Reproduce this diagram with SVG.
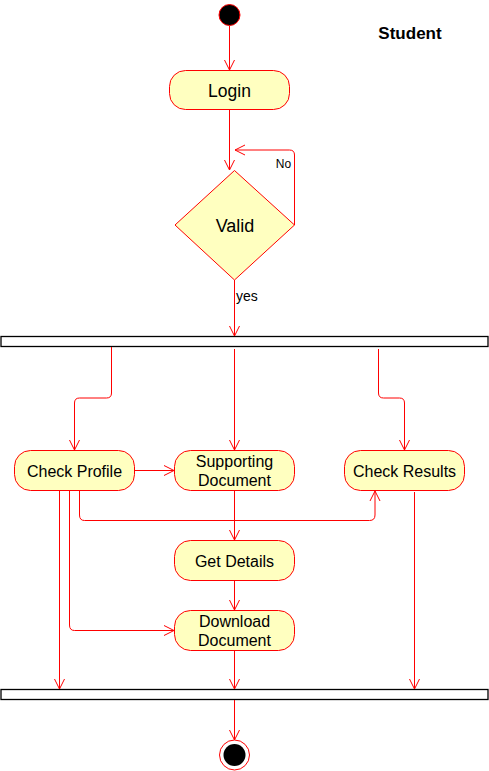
<svg xmlns="http://www.w3.org/2000/svg" width="489" height="771" viewBox="0 0 489 771">
<style>
.node{fill:#FFFFC0;stroke:#FF0000;stroke-width:1}
.bar{fill:#FFFFFF;stroke:#000000;stroke-width:1.3}
.edge{fill:none;stroke:#FF0000;stroke-width:1;marker-end:url(#arr)}
text{font-family:"Liberation Sans",Arial,sans-serif;fill:#000000;text-anchor:middle}
.lbl{font-size:16px}
.small{font-size:13px;text-anchor:start}
</style>
<defs>
<marker id="arr" markerUnits="userSpaceOnUse" markerWidth="14" markerHeight="14" viewBox="-12 -7 14 14" refX="0" refY="0" orient="auto">
<path d="M-10,-5 L0,0 L-10,5" fill="none" stroke="#FF0000" stroke-width="1"/>
</marker>
</defs>
<rect width="489" height="771" fill="#FFFFFF"/>
<text x="410" y="39" style="font-size:17px;font-weight:bold">Student</text>
<g id="start"><circle cx="229.5" cy="15" r="10.5" fill="#000000" stroke="#FF0000" stroke-width="1"/></g>
<g id="login"><rect class="node" x="169.5" y="70.5" width="120" height="39" rx="16"/><text x="229.5" y="97" style="font-size:17.5px">Login</text></g>
<g id="valid"><polygon class="node" points="234.5,170.5 294.5,225 234.5,280 175,225"/><text x="235" y="232" style="font-size:18px">Valid</text></g>
<g id="fork"><rect class="bar" x="1" y="336.5" width="487" height="10"/></g>
<g id="checkProfile"><rect class="node" x="14.5" y="450.5" width="120" height="40" rx="16"/><text class="lbl" x="74.5" y="477">Check Profile</text></g>
<g id="supportingDocument"><rect class="node" x="174.5" y="450.5" width="120" height="40" rx="16"/><text class="lbl" x="234.5" y="467">Supporting</text><text class="lbl" x="234.5" y="486">Document</text></g>
<g id="checkResults"><rect class="node" x="344.5" y="450.5" width="120" height="40" rx="16"/><text class="lbl" x="404.5" y="477">Check Results</text></g>
<g id="getDetails"><rect class="node" x="174.5" y="540.5" width="120" height="40" rx="16"/><text class="lbl" x="234.5" y="567">Get Details</text></g>
<g id="downloadDocument"><rect class="node" x="174.5" y="610.5" width="120" height="40" rx="16"/><text class="lbl" x="234.5" y="627">Download</text><text class="lbl" x="234.5" y="645.5">Document</text></g>
<g id="join"><rect class="bar" x="1" y="689.5" width="487" height="10"/></g>
<g id="end"><circle cx="234.5" cy="755" r="15" fill="#FFFFFF" stroke="#FF0000" stroke-width="1"/><circle cx="234.5" cy="755" r="11" fill="#000000"/></g>
<g id="connectors">
<path class="edge" d="M229.5,26 V70"/>
<path class="edge" d="M229.5,110 V170"/>
<path class="edge" d="M294.5,225 V155 Q294.5,150 289.5,150 H235"/>
<path class="edge" d="M234.5,280 V336"/>
<path class="edge" d="M111.5,347 V393 Q111.5,398 106.5,398 H79.5 Q74.5,398 74.5,403 V450"/>
<path class="edge" d="M234.5,349 V450"/>
<path class="edge" d="M378.5,349 V393 Q378.5,398 383.5,398 H399.5 Q404.5,398 404.5,403 V450"/>
<path class="edge" d="M134.5,470.5 H174"/>
<path class="edge" d="M59.5,491 V689"/>
<path class="edge" d="M69.5,491 V625 Q69.5,630.5 74.5,630.5 H174"/>
<path class="edge" d="M79.5,491 V515 Q79.5,520.5 84.5,520.5 H369.5 Q375,520.5 375,515 V491"/>
<path class="edge" d="M414.5,492 V689"/>
<path class="edge" d="M234.5,491 V540"/>
<path class="edge" d="M234.5,581 V610"/>
<path class="edge" d="M234.5,651 V689"/>
<path class="edge" d="M234.5,700 V740"/>
<text x="283.5" y="168" style="font-size:12px">No</text>
<text class="small" x="236" y="301" style="font-size:14px">yes</text>
</g>
</svg>
